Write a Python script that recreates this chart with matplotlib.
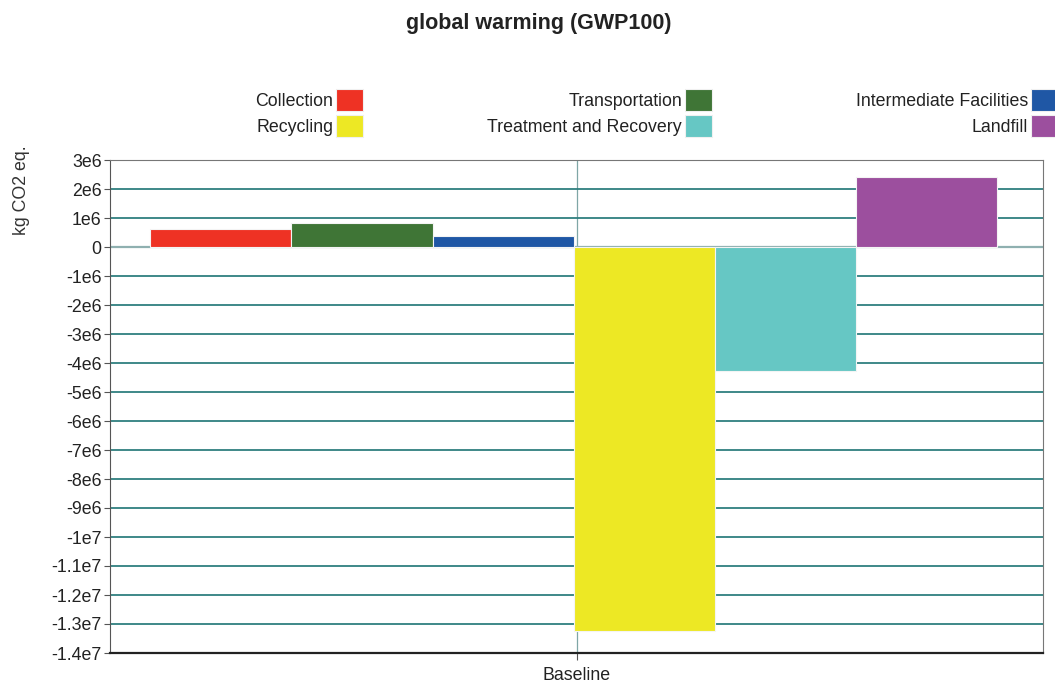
import matplotlib.pyplot as plt
from matplotlib.patches import Rectangle

# data
categories = ["Baseline"]
series = ["Collection", "Transportation", "Intermediate Facilities",
          "Recycling", "Treatment and Recovery", "Landfill"]
values = [0.62e6, 0.82e6, 0.37e6, -1.325e7, -4.28e6, 2.40e6]
colors = ["#EE3224", "#3F7536", "#1F57A5", "#EDE824", "#66C7C4", "#9C4F9E"]
ytick_vals = [3e6, 2e6, 1e6, 0, -1e6, -2e6, -3e6, -4e6, -5e6, -6e6, -7e6,
              -8e6, -9e6, -1e7, -1.1e7, -1.2e7, -1.3e7, -1.4e7]
ytick_labels = ["3e6", "2e6", "1e6", "0", "-1e6", "-2e6", "-3e6", "-4e6", "-5e6",
                "-6e6", "-7e6", "-8e6", "-9e6", "-1e7", "-1.1e7", "-1.2e7",
                "-1.3e7", "-1.4e7"]
# legend order (row-major, 3 columns)
legend_order = ["Collection", "Transportation", "Intermediate Facilities",
                "Recycling", "Treatment and Recovery", "Landfill"]

plt.rcParams["font.family"] = ["Liberation Sans", "DejaVu Sans"]
W, H = 1055, 684
fig = plt.figure(figsize=(W / 100, H / 100), dpi=100)
fig.patch.set_facecolor("white")

ax = fig.add_axes([110 / W, 1 - 653 / H, 933 / W, 493 / H])

bar_w = 0.1513
n = len(series)
for i, (name, v, c) in enumerate(zip(series, values, colors)):
    x = (i - (n - 1) / 2) * bar_w - 0.003
    ax.bar(x, v, width=bar_w, color=c, edgecolor="#f4f4f4", linewidth=0.8, zorder=3)

ax.set_xlim(-0.5, 0.5)
ax.set_ylim(-1.4e7, 3e6)
ax.set_yticks(ytick_vals)
ax.set_yticklabels(ytick_labels)
ax.set_xticks([0])
ax.set_xticklabels(categories)

ax.yaxis.grid(True, color="#2f7f7f", linewidth=1.3, zorder=0)
ax.xaxis.grid(True, color="#7fa6a6", linewidth=0.9, zorder=0)
ax.set_axisbelow(True)
ax.axhline(0, color="#8fb0b0", linewidth=1.6, zorder=1)

ax.spines["left"].set_color("#555555")
ax.spines["bottom"].set_color("#222222")
ax.spines["bottom"].set_linewidth(1.6)
ax.spines["top"].set_color("#777777")
ax.spines["right"].set_color("#777777")
ax.tick_params(axis="y", length=4, color="#555555", labelsize=12.8, pad=2,
               labelcolor="#222222")
ax.tick_params(axis="x", length=5, color="#555555", labelsize=12.8, pad=5,
               labelcolor="#222222")

fig.text(539 / W, 1 - 23 / H, "global warming (GWP100)", ha="center", va="center",
         fontsize=15.5, fontweight="bold", color="#222222")
fig.text(22 / W, 1 - 190 / H, "kg CO2 eq.", rotation=90, ha="center", va="center",
         fontsize=12.8, color="#333333")

# legend: label text to the left of a color box, 3 columns x 2 rows
col_right = [363, 712, 1058]
row_y = [100, 126]
box_w, box_h = 27, 22
for k, name in enumerate(legend_order):
    r, col = divmod(k, 3)
    c = colors[series.index(name)]
    x1 = col_right[col]
    yc = row_y[r]
    fig.patches.append(Rectangle(((x1 - box_w) / W, 1 - (yc + box_h / 2) / H),
                                 box_w / W, box_h / H, transform=fig.transFigure,
                                 facecolor=c, edgecolor="#f0f0f0", linewidth=0.8))
    fig.text((x1 - box_w - 3) / W, 1 - (yc + 2) / H, name, ha="right", va="center",
             fontsize=12.8, color="#222222")

fig.savefig("out.png", dpi=100, facecolor="white")
